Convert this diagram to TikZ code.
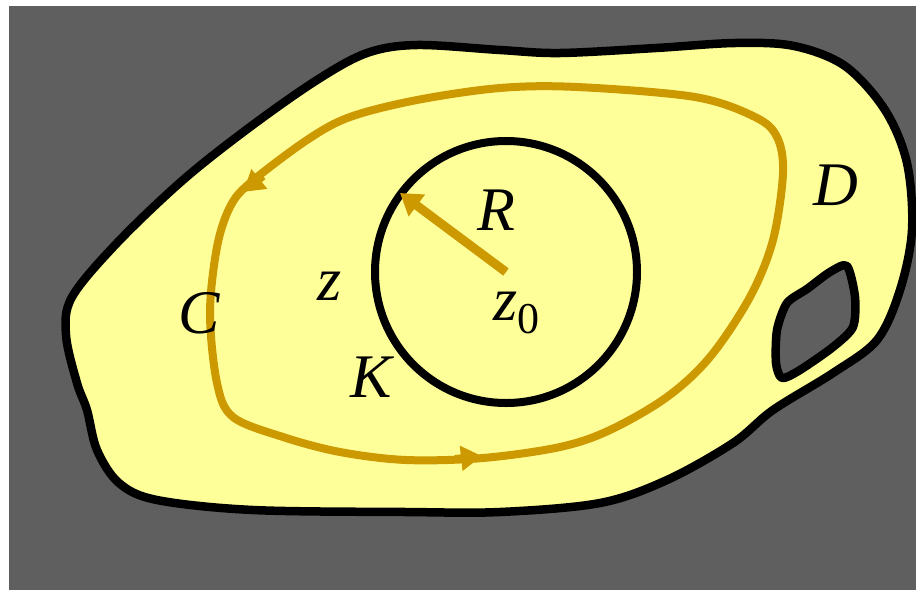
\documentclass[tikz,border=0pt]{standalone}
\usepackage{fontspec}
\setmainfont{Liberation Serif}
\usetikzlibrary{arrows.meta}
\definecolor{bggray}{HTML}{5F5F5F}
\definecolor{regionyellow}{HTML}{FFFF99}
\definecolor{gold}{HTML}{CC9900}
\begin{document}
\begin{tikzpicture}[x=1pt,y=-1pt,
  lbl/.style={anchor=base west, inner sep=0pt, font=\fontsize{62}{70}\selectfont\itshape},
  bound/.style={line width=8.5pt, draw=black, line join=round},
  contour/.style={line width=8pt, draw=gold},
  goldarrow/.style={draw=gold, line width=8pt, -{Triangle[length=21pt,width=24pt]}}]
\useasboundingbox (0,0) rectangle (916,590);
\fill[bggray] (9,6) rectangle (916,590);
% region D
\filldraw[bound, fill=regionyellow] plot[smooth cycle, tension=0.55] coordinates {
 (66,335) (72,297) (117,243) (183,180) (250,127) (317,80) (367,53) (417,45) (500,50)
 (560,53) (656,48) (735,43) (794,46) (845,66) (885,110) (907,163) (912,230) (900,290)
 (877,340) (833,373) (773,410) (733,443) (667,480) (600,503) (500,512) (406,512)
 (253,510) (157,500) (119,483) (97,450) (87,410) (77,383)};
% hole
\filldraw[bound, fill=bggray] plot[smooth cycle, tension=0.45] coordinates {
 (847,266) (855,297) (853,327) (833,347) (800,370) (782,378) (776,363) (777,330)
 (787,303) (807,289) (830,272)};
% contour C
\draw[contour] plot[smooth cycle, tension=0.55] coordinates {
 (406,460) (483,458) (560,447) (610,430) (667,397) (710,357) (750,297) (773,240)
 (783,173) (777,137) (755,117) (695,97) (577,87) (500,88) (417,100) (350,117)
 (307,140) (250,183) (230,207) (217,247) (210,313) (217,383) (233,417) (283,437)
 (340,452)};
\coordinate (ab1) at (455,459);
\coordinate (at1) at (482,456);
\coordinate (ab2) at (263,176);
\coordinate (at2) at (243,192);
\draw[goldarrow] (ab1) -- (at1);
\draw[goldarrow] (ab2) -- (at2);
% circle K
\coordinate (zc) at (506,272);
\draw[line width=8pt] (zc) circle[radius=131pt];
\coordinate (rtip) at (400,193);
\draw[draw=gold, line width=9pt, -{Triangle[length=21pt,width=26pt]}] (zc) -- (rtip);
% labels
\node[lbl] (labD) at (813,205) {D};
\node[lbl] (labR) at (477,230) {R};
\node[lbl] (labz) at (317,300) {z};
\node[lbl] (labC) at (178,333) {C};
\node[lbl] (labK) at (350,397) {K};
\node[lbl] (labz0) at (493,320) {z\raisebox{-13pt}{\upshape\fontsize{44}{48}\selectfont 0}};
\end{tikzpicture}
\end{document}
